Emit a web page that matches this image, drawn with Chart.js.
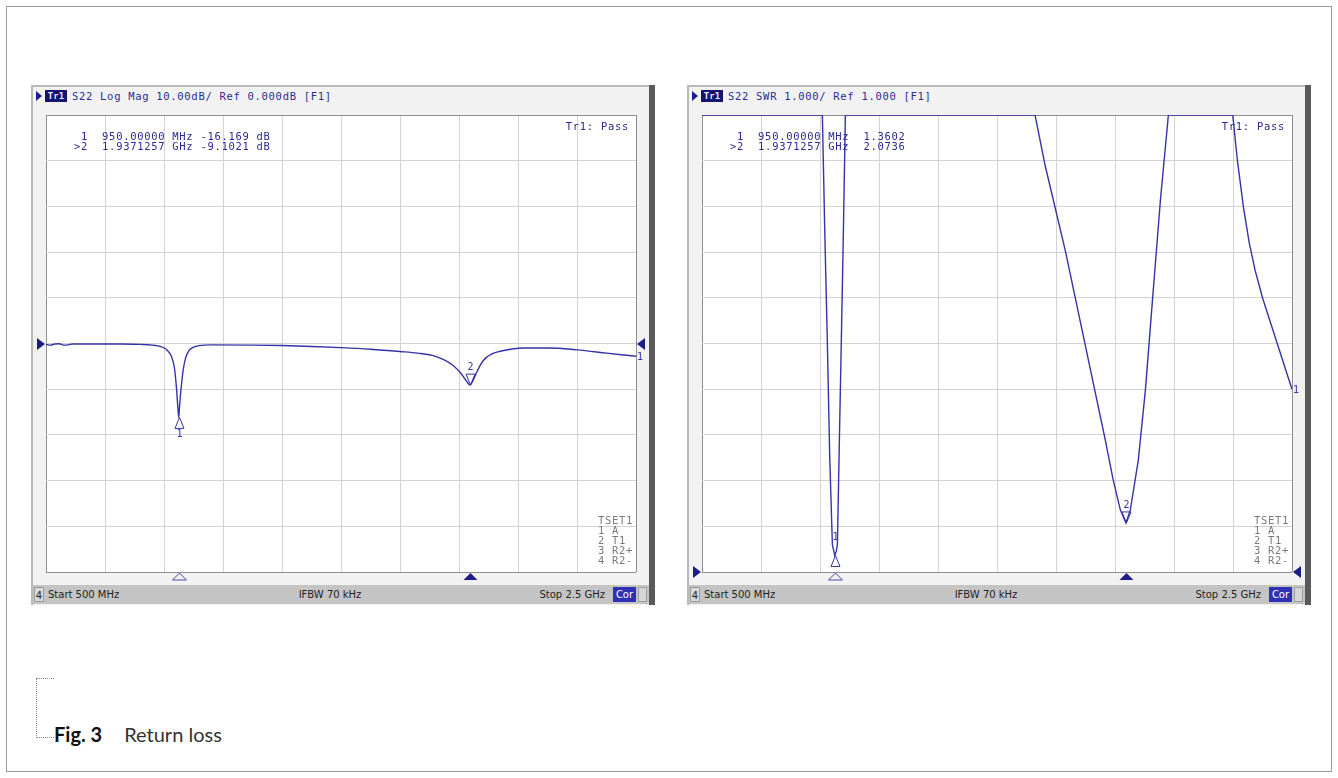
<!DOCTYPE html>
<html lang="en">
<head>
<meta charset="UTF-8">
<title>Fig. 3 Return loss</title>
<script src="https://cdn.jsdelivr.net/npm/chart.js"></script>
<style>
  body { margin: 0; width: 1338px; height: 778px; background: #fff; position: relative; overflow: hidden; }
  .sheet { position: absolute; left: 6px; top: 6px; width: 1324px; height: 764px; border: 1px solid #9a9a9a; }
  .panel { position: absolute; top: 86px; width: 622px; height: 520px; }
  .frame { position: absolute; left: -2px; top: -1px; width: 618px; height: 520px; background: #f2f2f2;
           border-left: 2px solid #b8b8b8; border-top: 2px solid #b8b8b8; box-sizing: border-box; }
  .shade { position: absolute; left: 616px; top: -1px; width: 6px; height: 520px; background: #5a5a5a; }
  .arrow { position: absolute; left: 3px; top: 5px; width: 0; height: 0; border-top: 5px solid transparent;
           border-bottom: 5px solid transparent; border-left: 6px solid #1c1c8a; }
  .tr { position: absolute; left: 12px; top: 4px; width: 22px; height: 12px; background: #14146e; color: #e8e8ff;
        font: bold 9px "DejaVu Sans Mono", monospace; line-height: 12px; text-align: center; }
  .mono { position: absolute; font-family: "DejaVu Sans Mono", monospace; font-size: 10.5px; letter-spacing: 0.7px;
          line-height: 12px; white-space: pre; color: #2b2b92; z-index: 2; }
  .pass { left: 496px; top: 34px; width: 100px; text-align: right; }
  .tset { left: 565px; top: 429px; line-height: 10px; color: #7a7a7a; }
  canvas { position: absolute; left: 0; top: 16px; z-index: 1; }
  .status { position: absolute; left: 0; top: 499px; width: 616px; height: 19px; background: #c4c4c4;
            font: 10px "DejaVu Sans", sans-serif; color: #1e1e1e; line-height: 19px; z-index: 2; }
  .status span { position: absolute; top: 0; white-space: pre; }
  .status .num { left: 1px; top: 2px; width: 10px; height: 15px; line-height: 15px; text-align: center;
                 background: #d8d8d8; box-sizing: border-box; border: 1px solid #9a9a9a; }
  .status .cor { left: 580px; top: 2px; width: 23px; height: 15px; line-height: 15px; text-align: center;
                 background: #3030b4; color: #fff; }
  .status .blank { left: 605px; top: 2px; width: 9px; height: 15px; background: #d6d6d6;
                   box-sizing: border-box; border: 1px solid #a0a0a0; }
  .bracket { position: absolute; left: 36px; top: 678px; width: 17px; height: 58px;
             border: 1px dotted #8a8a8a; border-right: none; }
  .caption { position: absolute; left: 54px; top: 724px; font: 20px Lato, sans-serif; line-height: 20px; color: #333; white-space: pre; }
  .caption b { font-weight: 700; color: #111; margin-right: 22px; }
</style>
</head>
<body>
<div class="sheet"></div>

<!-- left screen: log magnitude -->
<div class="panel" style="left:33px">
  <div class="frame"></div>
  <div class="shade"></div>
  <div class="arrow"></div>
  <div class="tr">Tr1</div>
  <div class="mono" style="left:39px;top:4px">S22 Log Mag 10.00dB/ Ref 0.000dB [F1]</div>
  <canvas id="logMagChart" width="616" height="483"></canvas>
  <div class="mono" style="left:41px;top:44px"> 1  950.00000 MHz -16.169 dB</div>
  <div class="mono" style="left:41px;top:54px">&gt;2  1.9371257 GHz -9.1021 dB</div>
  <div class="mono pass">Tr1: Pass</div>
  <div class="mono tset">TSET1
1 A
2 T1
3 R2+
4 R2-</div>
  <div class="status">
    <span class="num">4</span>
    <span style="left:15px">Start 500 MHz</span>
    <span style="left:247px;width:100px;text-align:center">IFBW 70 kHz</span>
    <span style="left:472px;width:100px;text-align:right">Stop 2.5 GHz</span>
    <span class="cor">Cor</span>
    <span class="blank"></span>
  </div>
</div>

<!-- right screen: SWR -->
<div class="panel" style="left:689px">
  <div class="frame"></div>
  <div class="shade"></div>
  <div class="arrow"></div>
  <div class="tr">Tr1</div>
  <div class="mono" style="left:39px;top:4px">S22 SWR 1.000/ Ref 1.000 [F1]</div>
  <canvas id="swrChart" width="616" height="483"></canvas>
  <div class="mono" style="left:41px;top:44px"> 1  950.00000 MHz  1.3602</div>
  <div class="mono" style="left:41px;top:54px">&gt;2  1.9371257 GHz  2.0736</div>
  <div class="mono pass">Tr1: Pass</div>
  <div class="mono tset">TSET1
1 A
2 T1
3 R2+
4 R2-</div>
  <div class="status">
    <span class="num">4</span>
    <span style="left:15px">Start 500 MHz</span>
    <span style="left:247px;width:100px;text-align:center">IFBW 70 kHz</span>
    <span style="left:472px;width:100px;text-align:right">Stop 2.5 GHz</span>
    <span class="cor">Cor</span>
    <span class="blank"></span>
  </div>
</div>

<div class="bracket"></div>
<div class="caption"><b>Fig. 3</b>Return loss</div>

<script>
  // S22 log magnitude (MHz, dB)
  const logMagFreq = [500, 515, 530, 545, 560, 575, 590, 650, 750, 820, 860, 890, 910, 925, 935, 942, 947, 950,
    953, 958, 965, 973, 985, 1000, 1020, 1060, 1200, 1300, 1400, 1500, 1600, 1700, 1760, 1810, 1850, 1880,
    1905, 1925, 1937.1257, 1948, 1960, 1975, 1990, 2010, 2040, 2080, 2120, 2200, 2300, 2400, 2500];
  const logMagDb = [-0.15, -0.35, -0.1, -0.05, -0.35, -0.3, -0.1, -0.1, -0.12, -0.2, -0.35, -0.7, -1.4, -2.8, -5.2,
    -9.5, -14.0, -16.169, -13.5, -9.8, -5.8, -3.2, -1.5, -0.8, -0.45, -0.3, -0.35, -0.45, -0.65, -0.9, -1.25,
    -1.75, -2.1, -2.6, -3.6, -4.8, -6.4, -8.2, -9.1021, -8.0, -6.3, -4.4, -3.2, -2.3, -1.7, -1.2, -1.0, -1.0,
    -1.4, -2.1, -2.8];

  // S22 SWR (MHz, SWR); 11 is the top edge of the screen
  const swrFreq = [500, 908, 916, 925, 933, 942, 950, 955, 959, 966, 973, 980, 986, 1629, 1663, 1731, 1799, 1867,
    1894, 1918, 1937.1257, 1952, 1979, 2003, 2027, 2054, 2081, 2299, 2315, 2335, 2355, 2375, 2400, 2430, 2465, 2500];
  const swrVal = [11, 11, 8.5, 6.0, 3.5, 1.6, 1.3602, 1.45, 1.6, 4.0, 6.3, 8.7, 11, 11, 9.9, 8.05, 5.97, 3.89,
    3.01, 2.36, 2.0736, 2.36, 3.45, 4.98, 6.95, 9.14, 11, 11, 10.0, 9.0, 8.2, 7.6, 7.0, 6.4, 5.7, 5.0];

  const markerFreq = [950, 1937.1257];
  const markerDb = [-16.169, -9.1021];
  const markerSwr = [1.3602, 2.0736];

  const freqRange = [500, 2500];
  const dbRange = [-50, 50];
  const swrRange = [1, 11];

  const NAVY = '#1c1c8a';
  const TRACE = '#3434a8';

  function tri(c, p, fill) {
    c.beginPath();
    c.moveTo(p[0], p[1]);
    c.lineTo(p[2], p[3]);
    c.lineTo(p[4], p[5]);
    c.closePath();
    if (fill) c.fill(); else c.stroke();
  }

  // screen furniture that sits on the data: reference arrows, markers, trace number
  const analyzerMarks = {
    id: 'analyzerMarks',
    beforeDraw(chart) {
      const a = chart.chartArea, c = chart.ctx;
      c.save();
      c.fillStyle = '#fff';
      c.fillRect(a.left, a.top, a.right - a.left, a.bottom - a.top);
      c.restore();
    },
    afterDatasetsDraw(chart, args, opts) {
      const a = chart.chartArea, c = chart.ctx;
      const xs = chart.scales.x, ys = chart.scales.y;
      c.save();
      c.fillStyle = NAVY;
      c.strokeStyle = NAVY;
      c.lineWidth = 1;
      c.font = '10px "DejaVu Sans Mono"';
      c.textAlign = 'center';
      c.textBaseline = 'middle';

      const yr = Math.round(ys.getPixelForValue(opts.ref));
      tri(c, [a.left - 9, yr - 6, a.left - 9, yr + 6, a.left - 1, yr], true);
      tri(c, [a.right + 9, yr - 6, a.right + 9, yr + 6, a.right + 1, yr], true);

      opts.marks.forEach((m, i) => {
        const px = Math.round(xs.getPixelForValue(m.f)) + 0.5;
        const py = ys.getPixelForValue(m.v);
        const d = m.side === 'below' ? 1 : -1;
        c.strokeStyle = TRACE;
        tri(c, [px, py, px - 4.5, py + d * 11, px + 4.5, py + d * 11], false);
        c.fillStyle = TRACE;
        const ly = m.label === 'below' ? py + 17 : py - 18;
        c.fillText(String(i + 1), px, ly);
        // stimulus marker under the grid
        const by = a.bottom + 1;
        c.fillStyle = NAVY;
        c.strokeStyle = i === 1 ? NAVY : '#4a4aa0';
        tri(c, [px, by, px - 7, by + 7, px + 7, by + 7], i === 1);
      });

      const pts = chart.getDatasetMeta(0).data;
      const last = pts[pts.length - 1];
      c.fillStyle = TRACE;
      c.textAlign = 'left';
      c.fillText('1', a.right + 1, last.y + 1);
      c.restore();
    }
  };

  const gridColor = ctx => (ctx.index === 0 || ctx.index === 10) ? '#8e8e8e' : '#d3d3d3';

  function screenChart(id, freq, vals, yRange, yStep, ref, marks, curve) {
    return new Chart(document.getElementById(id), {
      type: 'line',
      data: {
        datasets: [{
          data: freq.map((f, i) => ({ x: f, y: vals[i] })),
          borderColor: TRACE,
          borderWidth: 1.4,
          pointRadius: 0,
          cubicInterpolationMode: curve ? 'monotone' : 'default',
          tension: 0
        }]
      },
      options: {
        responsive: false,
        animation: false,
        layout: { padding: 13 },
        scales: {
          x: {
            type: 'linear', min: freqRange[0], max: freqRange[1],
            ticks: { display: false, stepSize: 200 },
            grid: { drawTicks: false, color: gridColor },
            border: { display: false }
          },
          y: {
            type: 'linear', min: yRange[0], max: yRange[1],
            ticks: { display: false, stepSize: yStep },
            grid: { drawTicks: false, color: gridColor },
            border: { display: false }
          }
        },
        plugins: {
          legend: { display: false },
          tooltip: { enabled: false },
          analyzerMarks: { ref: ref, marks: marks }
        }
      },
      plugins: [analyzerMarks]
    });
  }

  screenChart('logMagChart', logMagFreq, logMagDb, dbRange, 10, 0, [
    { f: markerFreq[0], v: markerDb[0], side: 'below', label: 'below' },
    { f: markerFreq[1], v: markerDb[1], side: 'above', label: 'above' }
  ], true);

  screenChart('swrChart', swrFreq, swrVal, swrRange, 1, 1, [
    { f: markerFreq[0], v: markerSwr[0], side: 'below', label: 'above' },
    { f: markerFreq[1], v: markerSwr[1], side: 'above', label: 'above' }
  ], false);
</script>
</body>
</html>
